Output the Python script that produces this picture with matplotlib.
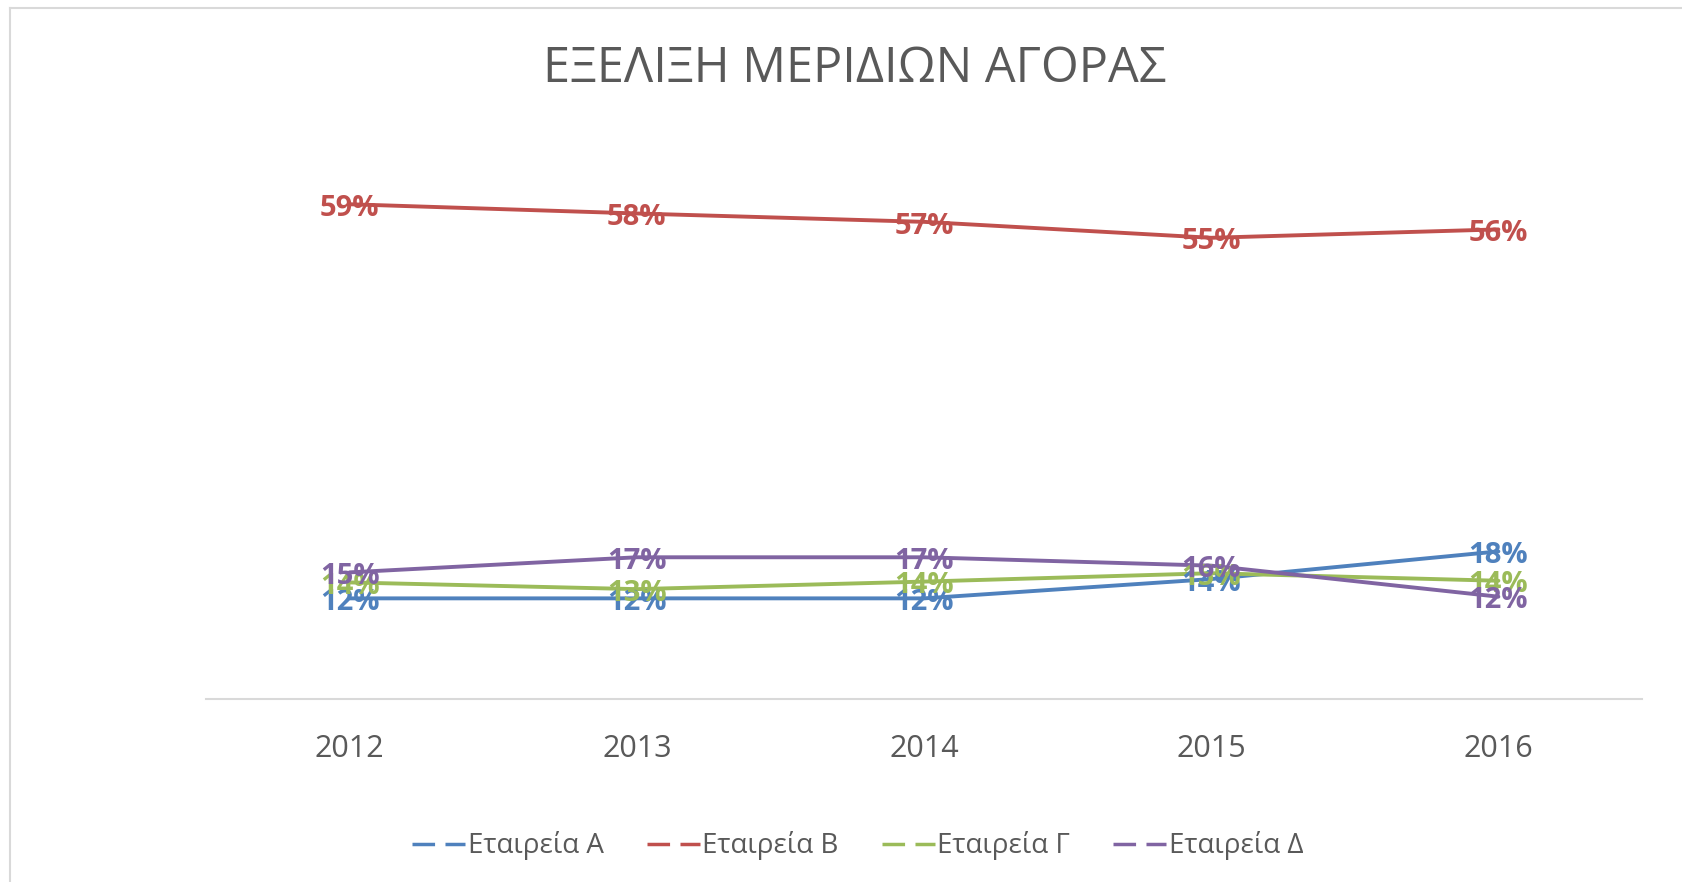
import matplotlib
matplotlib.use("Agg")
import matplotlib.pyplot as plt
import matplotlib.transforms as mtransforms
from matplotlib.lines import Line2D

# market share per year (percent)
years = ["2012", "2013", "2014", "2015", "2016"]
names = ["Εταιρεία Α", "Εταιρεία Β", "Εταιρεία Γ", "Εταιρεία Δ"]
share_a = [12.0, 12.0, 12.0, 14.3, 17.6]
share_b = [59.0, 57.9, 56.9, 55.0, 56.0]
share_c = [13.9, 13.1, 14.0, 15.0, 14.1]
share_d = [15.1, 16.9, 16.9, 15.9, 12.2]
colors = ["#4F81BD", "#C0504D", "#9BBB59", "#8064A2"]

plt.rcParams["font.family"] = ["Open Sans", "DejaVu Sans"]

fig = plt.figure(figsize=(16.82, 8.82), dpi=100)
ax = fig.add_axes([0.1225, 0.2075, 0.8537, 0.6655])

x = list(range(len(years)))
series = [share_a, share_b, share_c, share_d]
for vals, col in zip(series, colors):
    ax.plot(x, vals, color=col, lw=2.8, solid_capstyle="round", zorder=2)

# labels sit a few pixels below the point, like Excel's "center" position
lbl_tr = ax.transData + mtransforms.ScaledTranslation(0, -3 / 72, fig.dpi_scale_trans)
for vals, col in zip(series, colors):
    for xi, v in zip(x, vals):
        ax.text(xi, v, f"{v:.0f}%", color=col, fontsize=21, fontweight="bold",
                ha="center", va="center", zorder=3, transform=lbl_tr)

ax.set_xlim(-0.5, 4.5)
ax.set_ylim(0, 70)
ax.set_yticks([])
ax.set_xticks(x)
ax.set_xticklabels(years, fontsize=22, color="#595959")
ax.tick_params(axis="x", length=0, pad=25)
for s in ["top", "right", "left"]:
    ax.spines[s].set_visible(False)
ax.spines["bottom"].set_color("#D9D9D9")
ax.spines["bottom"].set_linewidth(1.5)

fig.text(0.508, 0.922, "ΕΞΕΛΙΞΗ ΜΕΡΙΔΙΩΝ ΑΓΟΡΑΣ", fontsize=35, color="#595959",
         ha="center", va="center")

handles = [Line2D([0], [0], color=c, lw=2.5, linestyle=(0, (6.5, 3))) for c in colors]
fig.legend(handles, names, loc="center", bbox_to_anchor=(0.51, 0.041), ncol=4,
           frameon=False, fontsize=20, labelcolor="#595959", handlelength=1.9,
           handletextpad=0.1, columnspacing=1.55)

# chart frame (only top and left edges visible in the crop)
fig.add_artist(Line2D([10 / 1682, 1], [1 - 8 / 882, 1 - 8 / 882], color="#D9D9D9", lw=1.5))
fig.add_artist(Line2D([10 / 1682, 10 / 1682], [0, 1 - 8 / 882], color="#D9D9D9", lw=1.5))

fig.savefig("out.png", dpi=100, facecolor="white")
